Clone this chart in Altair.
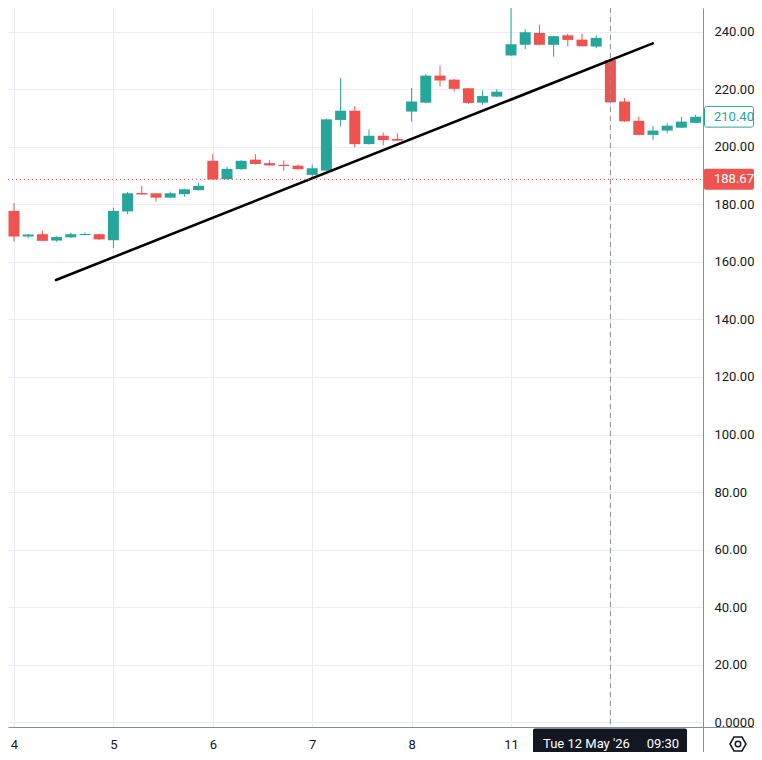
import altair as alt
import numpy as np
import pandas as pd

# ---------------- data ----------------
candle_idx = list(range(-1, 49))  # hourly candles, 7 per session; index 0 = May 4 09:30
opens = [177.4,
         177.7, 168.8, 169.6, 167.4, 168.5, 169.3, 169.6,
         167.5, 177.5, 183.9, 183.8, 182.3, 183.5, 184.9,
         195.1, 188.7, 192.2, 195.5, 194.3, 193.7, 193.4,
         190.2, 191.7, 209.3, 212.5, 200.9, 203.8, 202.7,
         212.2, 215.3, 224.7, 223.3, 220.3, 215.3, 217.4,
         231.7, 235.4, 239.5, 235.4, 238.7, 237.2, 234.8,
         230.1, 215.7, 209.0, 204.1, 205.6, 206.6, 208.3]
highs = [177.5,
         180.4, 169.7, 170.8, 168.9, 170.1, 170.2, 169.7,
         178.8, 184.2, 186.4, 183.9, 184.4, 185.4, 187.4,
         197.4, 193.0, 195.3, 197.4, 195.3, 195.3, 193.8,
         193.8, 209.8, 223.9, 214.1, 206.0, 204.9, 204.6,
         220.4, 225.3, 228.2, 223.5, 220.5, 219.5, 219.9,
         248.5, 240.8, 242.4, 238.6, 239.2, 239.2, 238.7,
         230.4, 216.9, 210.4, 207.2, 208.1, 210.4, 211.1]
lows = [176.6,
        167.0, 168.2, 167.2, 167.0, 168.3, 169.2, 167.6,
        164.8, 176.6, 183.3, 180.9, 182.1, 182.6, 184.8,
        188.4, 188.5, 192.0, 193.8, 193.4, 191.7, 192.0,
        188.5, 191.5, 207.0, 199.8, 200.8, 200.5, 202.0,
        208.7, 215.1, 220.9, 219.2, 214.9, 214.5, 217.2,
        231.5, 233.9, 235.2, 231.3, 234.8, 234.8, 234.2,
        215.2, 208.6, 204.0, 202.3, 204.7, 206.4, 208.2]
closes = [176.7,
          168.8, 169.5, 167.3, 168.6, 169.6, 169.7, 167.8,
          177.7, 183.8, 183.4, 182.3, 183.8, 185.2, 186.4,
          188.6, 192.3, 195.1, 194.0, 193.5, 193.3, 192.2,
          192.5, 209.5, 212.5, 200.9, 203.8, 202.3, 202.1,
          215.7, 224.7, 223.0, 220.1, 215.2, 217.6, 219.1,
          235.6, 239.8, 235.4, 238.4, 237.1, 234.9, 237.8,
          215.4, 208.8, 204.1, 205.6, 207.3, 208.7, 210.4]

day_ticks = [0, 7, 14, 21, 28, 35, 42]
day_labels = ["4", "5", "6", "7", "8", "11", ""]  # "12" sits under the crosshair label
y_ticks = [0, 20, 40, 60, 80, 100, 120, 140, 160, 180, 200, 220, 240]

trend_i = [2.96, 44.98]
trend_p = [153.7, 235.9]

last_price = 210.40
ref_price = 188.67
crosshair_i = 42
crosshair_date = "Tue 12 May '26"
crosshair_time = "09:30"

# ---------------- style ----------------
UP = "#26a69a"
DOWN = "#ef5350"
GRID = "#e9edf2"
AXIS = "#8a8d96"
TXT = "#131722"
FONT = "Roboto"

W, H = 695, 719
PAD_R, PAD_B = 51, 25

df = pd.DataFrame(dict(i=candle_idx, open=opens, high=highs, low=lows, close=closes))
df["dir"] = np.where(df["close"] >= df["open"], "up", "down")

xscale = alt.Scale(domain=[-0.4225, 48.521], nice=False, zero=False, padding=0)
yscale = alt.Scale(domain=[-1.63, 248.19], nice=False, zero=False, padding=0)

label_expr = " : ".join(f"datum.value == {t} ? '{l}'" for t, l in zip(day_ticks, day_labels)) + " : ''"

xaxis = alt.Axis(values=day_ticks, labelExpr=label_expr, grid=True, gridColor=GRID, gridWidth=1,
                 ticks=False, tickSize=0, domain=True, domainColor=AXIS, domainWidth=1,
                 labelColor=TXT, labelFont=FONT, labelFontSize=13, labelPadding=17,
                 labelBaseline="middle", labelFlush=False, labelOverlap=False, title=None)
yaxis = alt.Axis(orient="right", values=y_ticks,
                 labelExpr="datum.value == 0 ? '0.0000' : format(datum.value, '.2f')",
                 grid=True, gridColor=GRID, gridWidth=1, ticks=False, tickSize=0,
                 domain=True, domainColor=AXIS, domainWidth=1,
                 labelColor=TXT, labelFont=FONT, labelFontSize=13, labelPadding=11,
                 labelAlign="left", labelBaseline="middle", labelOverlap=False, title=None)


def X(field):
    return alt.X(field, type="quantitative", scale=xscale, axis=xaxis)


def Y(field):
    return alt.Y(field, type="quantitative", scale=yscale, axis=yaxis)


color = alt.Color("dir:N", scale=alt.Scale(domain=["up", "down"], range=[UP, DOWN]), legend=None)

wicks = alt.Chart(df).mark_rule(strokeWidth=1, clip=True).encode(
    x=X("i"), y=Y("low"), y2="high:Q", color=color)
bodies = alt.Chart(df).mark_bar(size=11, clip=True).encode(
    x=X("i"), y=Y("open"), y2="close:Q", color=color)

trend_df = pd.DataFrame({"ti": trend_i, "tp": trend_p})
trend = alt.Chart(trend_df).mark_line(color="#000000", strokeWidth=2.6, strokeCap="round", clip=True).encode(
    x=X("ti"), y=Y("tp"))

ref_df = pd.DataFrame({"p": [ref_price]})
ref_line = alt.Chart(ref_df).mark_rule(color=DOWN, strokeDash=[1, 3], strokeWidth=1).encode(
    y=Y("p"), x=alt.value(0), x2=alt.value(W))

cross_df = pd.DataFrame({"c": [crosshair_i]})
cross = alt.Chart(cross_df).mark_rule(color="#8a8f9c", strokeDash=[5, 4], strokeWidth=1).encode(
    x=X("c"), y=alt.value(0), y2=alt.value(H + 1))

# price tags on the right scale
last_df = pd.DataFrame({"p": [last_price]})
last_box = alt.Chart(last_df).transform_calculate(
    top="datum.p + 3.6", bot="datum.p - 3.6").mark_rect(
    fill="white", stroke=UP, strokeWidth=1, cornerRadius=2).encode(
    x=alt.value(W + 1.5), x2=alt.value(W + PAD_R - 0.5), y=Y("top"), y2="bot:Q")
last_txt = alt.Chart(last_df).mark_text(
    align="left", baseline="middle", font=FONT, fontSize=13, color=UP).encode(
    x=alt.value(W + 11), y=Y("p"), text=alt.Text("p:Q", format=".2f"))

ref_box = alt.Chart(ref_df).transform_calculate(
    top="datum.p + 3.65", bot="datum.p - 3.65").mark_rect(
    fill=DOWN, cornerRadius=2).encode(
    x=alt.value(W + 1), x2=alt.value(W + PAD_R), y=Y("top"), y2="bot:Q")
ref_txt = alt.Chart(ref_df).mark_text(
    align="left", baseline="middle", font=FONT, fontSize=13, color="white").encode(
    x=alt.value(W + 11), y=Y("p"), text=alt.Text("p:Q", format=".2f"))

one = pd.DataFrame({"d": [crosshair_date], "t": [crosshair_time]})

# axis line extensions into the scale corner
corner_h = alt.Chart(one).mark_rule(color=AXIS, strokeWidth=1).encode(
    x=alt.value(W), x2=alt.value(W + PAD_R), y=alt.value(H + 0.5))
corner_v = alt.Chart(one).mark_rule(color=AXIS, strokeWidth=1).encode(
    x=alt.value(W + 0.5), y=alt.value(H), y2=alt.value(H + PAD_B))

# crosshair time label
tip_box = alt.Chart(one).mark_rect(fill=TXT, cornerRadius=2).encode(
    x=alt.value(525), x2=alt.value(679), y=alt.value(H + 1.5), y2=alt.value(H + PAD_B + 4))
tip_date = alt.Chart(one).mark_text(align="left", baseline="middle", font=FONT, fontSize=13,
                                    color="white").encode(
    x=alt.value(535), y=alt.value(H + 17), text="d:N")
tip_time = alt.Chart(one).mark_text(align="right", baseline="middle", font=FONT, fontSize=13,
                                    color="white").encode(
    x=alt.value(671), y=alt.value(H + 17), text="t:N")

# settings icon
HEX = "M-1,0L-0.5,-0.866L0.5,-0.866L1,0L0.5,0.866L-0.5,0.866Z"
icon_hex = alt.Chart(one).mark_point(shape=HEX, size=256, filled=False, stroke=TXT,
                                     strokeWidth=1.5, opacity=1).encode(
    x=alt.value(730), y=alt.value(H + 17))
icon_dot = alt.Chart(one).mark_point(shape="circle", size=30, filled=False, stroke=TXT,
                                     strokeWidth=1.5, opacity=1).encode(
    x=alt.value(730), y=alt.value(H + 17))

chart = alt.layer(
    wicks, bodies, trend, ref_line, cross,
    last_box, last_txt, ref_box, ref_txt,
    corner_h, corner_v, tip_box, tip_date, tip_time, icon_hex, icon_dot,
).properties(
    width=W, height=H,
    padding={"left": 0, "top": 0, "right": PAD_R, "bottom": PAD_B},
    autosize=alt.AutoSizeParams(type="none"),
    background="white",
).configure_view(strokeOpacity=0)

chart.save("out.html", embed_options={"renderer": "svg", "actions": False})
